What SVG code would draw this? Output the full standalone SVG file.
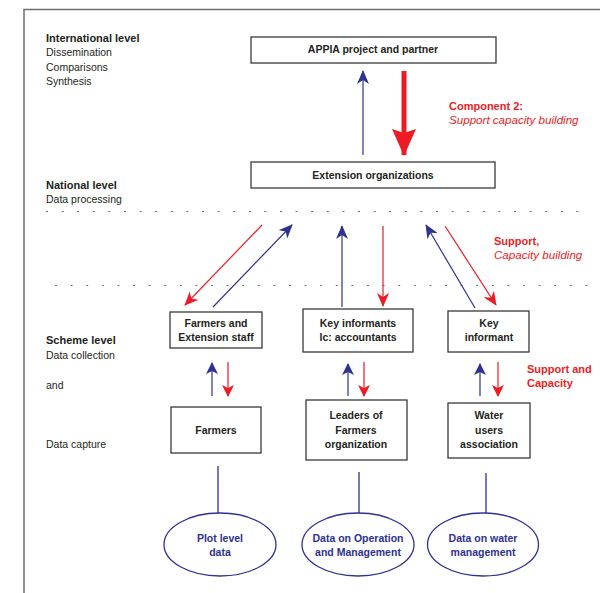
<svg xmlns="http://www.w3.org/2000/svg" width="600" height="593" viewBox="0 0 600 593">
<defs>
<style>
.frame{fill:none;stroke:#6d6e71;stroke-width:1.5}
.box{fill:#fff;stroke:#3a3a3a;stroke-width:1.3}
.ell{fill:#fff;stroke:#2e3192;stroke-width:1.3}
.t{font-family:"Liberation Sans",Arial,sans-serif;font-size:10.5px;fill:#231f20}
.b{font-weight:bold}
.lb{font-size:11px}
.c{text-anchor:middle}
.red{fill:#ed1c24}
.ri{fill:#ed1c24;font-style:italic;font-size:11.6px}
.blt{fill:#2e3192;font-weight:bold}
.dot{stroke:#6d6e71;stroke-width:1.2;stroke-dasharray:2 13.6;fill:none}
.bl{stroke:#2e3192;stroke-width:1.2;fill:none}
.rl{stroke:#ed1c24;stroke-width:1.2;fill:none}
.lk{stroke:#2e3192;stroke-width:1.3;fill:none}
</style>
<marker id="hb" viewBox="0 0 14 12" markerUnits="userSpaceOnUse" markerWidth="14" markerHeight="12" refX="13" refY="6" orient="auto"><path d="M0,0 L14,6 L0,12 L4,6 z" fill="#2e3192"/></marker>
<marker id="hr" viewBox="0 0 14 12" markerUnits="userSpaceOnUse" markerWidth="14" markerHeight="12" refX="13" refY="6" orient="auto"><path d="M0,0 L14,6 L0,12 L4,6 z" fill="#ed1c24"/></marker>
<marker id="hbs" viewBox="0 0 12 12" markerUnits="userSpaceOnUse" markerWidth="12" markerHeight="12" refX="11" refY="6" orient="auto"><path d="M0,0 L12,6 L0,12 L3,6 z" fill="#2e3192"/></marker>
<marker id="hrs" viewBox="0 0 12 12" markerUnits="userSpaceOnUse" markerWidth="12" markerHeight="12" refX="11" refY="6" orient="auto"><path d="M0,0 L12,6 L0,12 L3,6 z" fill="#ed1c24"/></marker>
<marker id="hbig" viewBox="0 0 27 24" markerUnits="userSpaceOnUse" markerWidth="27" markerHeight="24" refX="26" refY="12" orient="auto"><path d="M0,0 L27,12 L0,24 L4,12 z" fill="#ed1c24"/></marker>
</defs>

<g id="frame">
<path class="frame" d="M24,593 L24,9.5 L600,9.5"/>
</g>

<g id="level-labels">
<text class="t b lb" x="46" y="42">International level</text>
<text class="t" x="46" y="56">Dissemination</text>
<text class="t" x="46" y="71">Comparisons</text>
<text class="t" x="46" y="85">Synthesis</text>
<text class="t b lb" x="46" y="189">National level</text>
<text class="t" x="46" y="203">Data processing</text>
<text class="t b lb" x="46" y="344">Scheme level</text>
<text class="t" x="46" y="359">Data collection</text>
<text class="t" x="46" y="389">and</text>
<text class="t" x="46" y="448">Data capture</text>
</g>

<g id="separators">
<line class="dot" x1="46" y1="211.5" x2="590" y2="211.5"/>
<line class="dot" x1="55" y1="285.5" x2="596" y2="285.5"/>
</g>

<g id="annotations">
<text class="t b red lb" x="449" y="110">Component 2:</text>
<text class="t ri" x="449" y="124">Support capacity building</text>
<text class="t b red lb" x="494" y="245">Support,</text>
<text class="t ri" x="494" y="259">Capacity building</text>
<text class="t b red lb" x="527" y="373">Support and</text>
<text class="t b red lb" x="527" y="387">Capacity</text>
</g>

<g id="connectors">
<line class="bl" x1="363" y1="155" x2="363" y2="71" marker-end="url(#hb)"/>
<line stroke="#ed1c24" stroke-width="5" x1="404" y1="71" x2="404" y2="155" marker-end="url(#hbig)"/>
<line class="rl" x1="262" y1="225" x2="185" y2="305" marker-end="url(#hr)"/>
<line class="bl" x1="213" y1="307" x2="292" y2="225" marker-end="url(#hb)"/>
<line class="bl" x1="342" y1="307" x2="342" y2="226" marker-end="url(#hb)"/>
<line class="rl" x1="383" y1="226" x2="383" y2="306" marker-end="url(#hr)"/>
<line class="bl" x1="475" y1="308" x2="426" y2="225" marker-end="url(#hb)"/>
<line class="rl" x1="445" y1="226" x2="496" y2="305" marker-end="url(#hr)"/>
<line class="bl" x1="212" y1="396" x2="212" y2="363" marker-end="url(#hbs)"/>
<line class="rl" x1="228" y1="362" x2="228" y2="396" marker-end="url(#hrs)"/>
<line class="bl" x1="348" y1="396" x2="348" y2="364" marker-end="url(#hbs)"/>
<line class="rl" x1="364" y1="362" x2="364" y2="396" marker-end="url(#hrs)"/>
<line class="bl" x1="480" y1="396" x2="480" y2="364" marker-end="url(#hbs)"/>
<line class="rl" x1="498" y1="362" x2="498" y2="396" marker-end="url(#hrs)"/>
<line class="lk" x1="218" y1="466" x2="218" y2="513"/>
<line class="lk" x1="359" y1="472" x2="359" y2="513"/>
<line class="lk" x1="486" y1="473" x2="486" y2="513"/>
</g>

<g id="appia">
<rect class="box" x="251" y="37" width="245" height="26"/>
<text class="t b c" x="373" y="53">APPIA project and partner</text>
</g>
<g id="extension">
<rect class="box" x="251" y="162" width="244" height="26"/>
<text class="t b c" x="373" y="179">Extension organizations</text>
</g>
<g id="farmers-extension">
<rect class="box" x="170" y="312" width="92" height="36"/>
<text class="t b c" x="216" y="327">Farmers and</text>
<text class="t b c" x="216" y="341">Extension staff</text>
</g>
<g id="key-informants">
<rect class="box" x="303" y="309" width="110" height="43"/>
<text class="t b c" x="358" y="327">Key informants</text>
<text class="t b c" x="358" y="341">Ic: accountants</text>
</g>
<g id="key-informant">
<rect class="box" x="448" y="311" width="81" height="41"/>
<text class="t b c" x="489" y="327">Key</text>
<text class="t b c" x="489" y="341">informant</text>
</g>
<g id="farmers">
<rect class="box" x="171" y="407" width="90" height="46"/>
<text class="t b c" x="216" y="434">Farmers</text>
</g>
<g id="leaders">
<rect class="box" x="306" y="400" width="101" height="60"/>
<text class="t b c" x="356" y="419">Leaders of</text>
<text class="t b c" x="356" y="434">Farmers</text>
<text class="t b c" x="356" y="448">organization</text>
</g>
<g id="wua">
<rect class="box" x="448" y="403" width="82" height="55"/>
<text class="t b c" x="489" y="419">Water</text>
<text class="t b c" x="489" y="434">users</text>
<text class="t b c" x="489" y="448">association</text>
</g>
<g id="plot-data">
<ellipse class="ell" cx="220" cy="544.5" rx="56" ry="31.5"/>
<text class="t blt c" x="220" y="542">Plot level</text>
<text class="t blt c" x="220" y="556">data</text>
</g>
<g id="om-data">
<ellipse class="ell" cx="358" cy="544.5" rx="56" ry="31.5"/>
<text class="t blt c" x="358" y="542">Data on Operation</text>
<text class="t blt c" x="358" y="556">and Management</text>
</g>
<g id="water-data">
<ellipse class="ell" cx="483" cy="544.5" rx="55.5" ry="31.5"/>
<text class="t blt c" x="483" y="542">Data on water</text>
<text class="t blt c" x="483" y="556">management</text>
</g>
</svg>
